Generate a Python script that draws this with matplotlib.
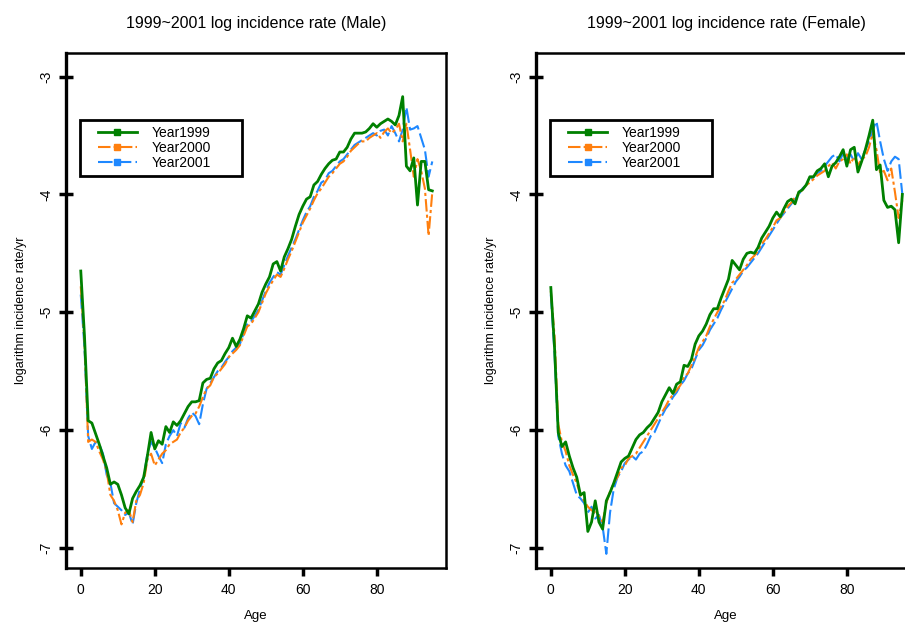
import matplotlib
matplotlib.use('Agg')
import matplotlib.pyplot as plt
from matplotlib.lines import Line2D
from matplotlib.legend_handler import HandlerLine2D

plt.rcParams['font.family'] = ['Liberation Sans', 'DejaVu Sans']

ages = list(range(96))

male_1999 = [-4.65, -5.20, -5.92, -5.94, -6.03, -6.12, -6.22, -6.32, -6.46, -6.44,
             -6.46, -6.55, -6.66, -6.71, -6.58, -6.52, -6.47, -6.40, -6.22, -6.02,
             -6.16, -6.09, -6.12, -5.97, -6.02, -5.93, -5.96, -5.92, -5.86, -5.80,
             -5.76, -5.76, -5.75, -5.60, -5.57, -5.56, -5.48, -5.43, -5.41, -5.35,
             -5.30, -5.22, -5.29, -5.23, -5.14, -5.03, -5.05, -4.99, -4.93, -4.83,
             -4.76, -4.70, -4.59, -4.57, -4.65, -4.53, -4.46, -4.38, -4.27, -4.17,
             -4.10, -4.04, -4.02, -3.92, -3.89, -3.83, -3.78, -3.74, -3.71, -3.70,
             -3.64, -3.64, -3.60, -3.53, -3.48, -3.48, -3.48, -3.47, -3.44, -3.40,
             -3.43, -3.40, -3.38, -3.36, -3.38, -3.41, -3.33, -3.17, -3.76, -3.80,
             -3.69, -4.09, -3.72, -3.72, -3.96, -3.97]
male_2000 = [-4.78, -5.25, -6.10, -6.08, -6.10, -6.18, -6.25, -6.35, -6.55, -6.60,
             -6.68, -6.80, -6.70, -6.68, -6.78, -6.60, -6.55, -6.45, -6.25, -6.20,
             -6.30, -6.25, -6.20, -6.17, -6.12, -6.10, -6.08, -6.02, -5.98, -5.92,
             -5.88, -5.86, -5.80, -5.72, -5.65, -5.62, -5.55, -5.52, -5.48, -5.44,
             -5.38, -5.35, -5.32, -5.28, -5.20, -5.12, -5.10, -5.05, -5.00, -4.92,
             -4.84, -4.78, -4.73, -4.68, -4.70, -4.63, -4.55, -4.48, -4.40, -4.32,
             -4.24, -4.18, -4.12, -4.05, -3.99, -3.95, -3.90, -3.85, -3.82, -3.78,
             -3.74, -3.72, -3.68, -3.63, -3.60, -3.57, -3.55, -3.55, -3.52, -3.50,
             -3.48, -3.52, -3.47, -3.44, -3.48, -3.45, -3.40, -3.55, -3.40, -3.62,
             -3.85, -3.70, -3.80, -3.95, -4.35, -3.98]
male_2001 = [-4.85, -5.30, -6.05, -6.16, -6.10, -6.12, -6.20, -6.38, -6.45, -6.62,
             -6.65, -6.68, -6.72, -6.70, -6.80, -6.62, -6.50, -6.40, -6.20, -6.10,
             -6.15, -6.22, -6.28, -6.12, -6.05, -6.00, -6.05, -5.94, -5.98, -5.90,
             -5.85, -5.88, -5.95, -5.78, -5.65, -5.60, -5.55, -5.50, -5.47, -5.42,
             -5.38, -5.33, -5.30, -5.27, -5.18, -5.10, -5.08, -5.03, -4.98, -4.90,
             -4.82, -4.75, -4.70, -4.66, -4.68, -4.60, -4.52, -4.45, -4.38, -4.30,
             -4.22, -4.15, -4.10, -4.02, -3.97, -3.90, -3.88, -3.82, -3.80, -3.76,
             -3.72, -3.70, -3.66, -3.62, -3.58, -3.56, -3.54, -3.52, -3.50, -3.48,
             -3.50, -3.46, -3.45, -3.50, -3.42, -3.48, -3.55, -3.45, -3.26, -3.45,
             -3.44, -3.42, -3.52, -3.62, -3.85, -3.72]

female_1999 = [-4.79, -5.30, -6.02, -6.14, -6.10, -6.22, -6.32, -6.40, -6.55, -6.53,
               -6.86, -6.78, -6.60, -6.78, -6.84, -6.60, -6.53, -6.45, -6.36, -6.27,
               -6.24, -6.22, -6.15, -6.08, -6.04, -6.02, -5.98, -5.95, -5.90, -5.85,
               -5.76, -5.70, -5.64, -5.69, -5.61, -5.59, -5.45, -5.46, -5.40, -5.27,
               -5.20, -5.16, -5.10, -5.02, -4.97, -4.97, -4.88, -4.80, -4.72, -4.56,
               -4.60, -4.64, -4.55, -4.50, -4.49, -4.50, -4.45, -4.37, -4.32, -4.27,
               -4.20, -4.15, -4.19, -4.12, -4.06, -4.04, -4.08, -3.98, -3.96, -3.92,
               -3.85, -3.85, -3.80, -3.78, -3.74, -3.85, -3.76, -3.73, -3.68, -3.62,
               -3.76, -3.62, -3.60, -3.81, -3.72, -3.62, -3.50, -3.37, -3.79, -3.75,
               -4.05, -4.11, -4.10, -4.13, -4.41, -4.00]
female_2000 = [-4.82, -5.20, -5.95, -6.10, -6.18, -6.30, -6.38, -6.45, -6.55, -6.60,
               -6.65, -6.68, -6.70, -6.73, -6.78, -6.62, -6.52, -6.45, -6.40, -6.32,
               -6.30, -6.24, -6.22, -6.20, -6.15, -6.10, -6.05, -6.00, -5.95, -5.90,
               -5.85, -5.80, -5.74, -5.70, -5.66, -5.62, -5.55, -5.52, -5.45, -5.38,
               -5.30, -5.25, -5.20, -5.12, -5.06, -5.00, -4.95, -4.90, -4.82, -4.75,
               -4.72, -4.68, -4.64, -4.60, -4.55, -4.52, -4.48, -4.42, -4.38, -4.33,
               -4.28, -4.22, -4.20, -4.15, -4.10, -4.07, -4.02, -4.00, -3.96, -3.92,
               -3.90, -3.87, -3.84, -3.82, -3.80, -3.76, -3.73, -3.78, -3.72, -3.70,
               -3.66, -3.74, -3.68, -3.75, -3.70, -3.68, -3.60, -3.48, -3.62, -3.82,
               -3.80, -3.88, -3.78, -3.98, -4.20, -4.05]
female_2001 = [-4.85, -5.35, -6.05, -6.20, -6.30, -6.35, -6.45, -6.55, -6.58, -6.62,
               -6.70, -6.65, -6.75, -6.72, -6.82, -7.05, -6.70, -6.50, -6.40, -6.35,
               -6.28, -6.25, -6.22, -6.25, -6.20, -6.18, -6.12, -6.05, -6.02, -5.95,
               -5.88, -5.82, -5.78, -5.72, -5.68, -5.62, -5.58, -5.52, -5.48, -5.40,
               -5.32, -5.28, -5.22, -5.15, -5.10, -5.05, -4.98, -4.92, -4.86, -4.80,
               -4.74, -4.70, -4.65, -4.62, -4.58, -4.54, -4.50, -4.45, -4.40, -4.35,
               -4.30, -4.25, -4.20, -4.16, -4.12, -4.08, -4.04, -4.00, -3.95, -3.92,
               -3.88, -3.85, -3.82, -3.80, -3.76, -3.72, -3.68, -3.66, -3.72, -3.65,
               -3.70, -3.66, -3.72, -3.65, -3.70, -3.62, -3.55, -3.45, -3.38, -3.55,
               -3.70, -3.80, -3.72, -3.68, -3.70, -4.00]

year_labels = ['Year1999', 'Year2000', 'Year2001']
x_ticks = [0, 20, 40, 60, 80]
y_ticks = [-7, -6, -5, -4, -3]

colors = ['#008000', '#ff7f0e', '#1e88ff']
styles = [dict(linestyle='-', linewidth=2.0),
          dict(linestyle=(0, (6, 1.5, 1.5, 1.5)), linewidth=1.5),
          dict(linestyle=(0, (7, 2)), linewidth=1.5)]


class EndMarkerHandler(HandlerLine2D):
    """legend line drawn in the right part of the handle box, square only at the end"""
    def get_xdata(self, legend, xdescent, ydescent, width, height, fontsize):
        x0 = -xdescent + width * 0.23
        x1 = -xdescent + width
        return [x0, x1], [x1]


fig = plt.figure(figsize=(9.05, 6.23), dpi=100)
ax_m = fig.add_axes([0.0729, 0.0883, 0.4199, 0.8266])
ax_f = fig.add_axes([0.5923, 0.0883, 0.4199, 0.8266])

panels = [(ax_m, [male_1999, male_2000, male_2001], 'Male'),
          (ax_f, [female_1999, female_2000, female_2001], 'Female')]

for ax, series, sex in panels:
    # 2001 first so 1999 stays on top
    for i in [2, 1, 0]:
        ax.plot(ages, series[i], color=colors[i], label=year_labels[i],
                zorder=3 - i, **styles[i])

    ax.set_xlim(-4, 98.7)
    ax.set_ylim(-7.17, -2.80)
    ax.set_xticks(x_ticks)
    ax.set_yticks(y_ticks)
    ax.set_yticklabels([str(v) for v in y_ticks], rotation=90, va='center')
    ax.tick_params(axis='x', direction='out', length=6, width=2.5, labelsize=10, pad=5)
    ax.tick_params(axis='y', direction='inout', length=10, width=2.5, labelsize=10, pad=4)
    for sp in ax.spines.values():
        sp.set_linewidth(1.8)
    ax.spines['left'].set_linewidth(2.4)

    ax.set_title(f'1999~2001 log incidence rate ({sex})', fontsize=11.5, pad=18)
    ax.set_xlabel('Age', fontsize=9.5, labelpad=9)
    ax.set_ylabel('logarithm incidence rate/yr', fontsize=9, labelpad=9)

    handles = [Line2D([], [], color=colors[i], marker='s', markersize=4, **styles[i])
               for i in range(3)]
    leg = ax.legend(handles, year_labels, loc='upper left',
                    bbox_to_anchor=(0.037, 0.757, 0.426, 0.113), mode='expand',
                    borderaxespad=0, fontsize=10, handlelength=3.65,
                    handletextpad=1.08, labelspacing=0.05, fancybox=False,
                    borderpad=0.45, framealpha=1,
                    handler_map={Line2D: EndMarkerHandler()})
    leg.get_frame().set_edgecolor('black')
    leg.get_frame().set_linewidth(2)

plt.savefig('out.png', dpi=100)
